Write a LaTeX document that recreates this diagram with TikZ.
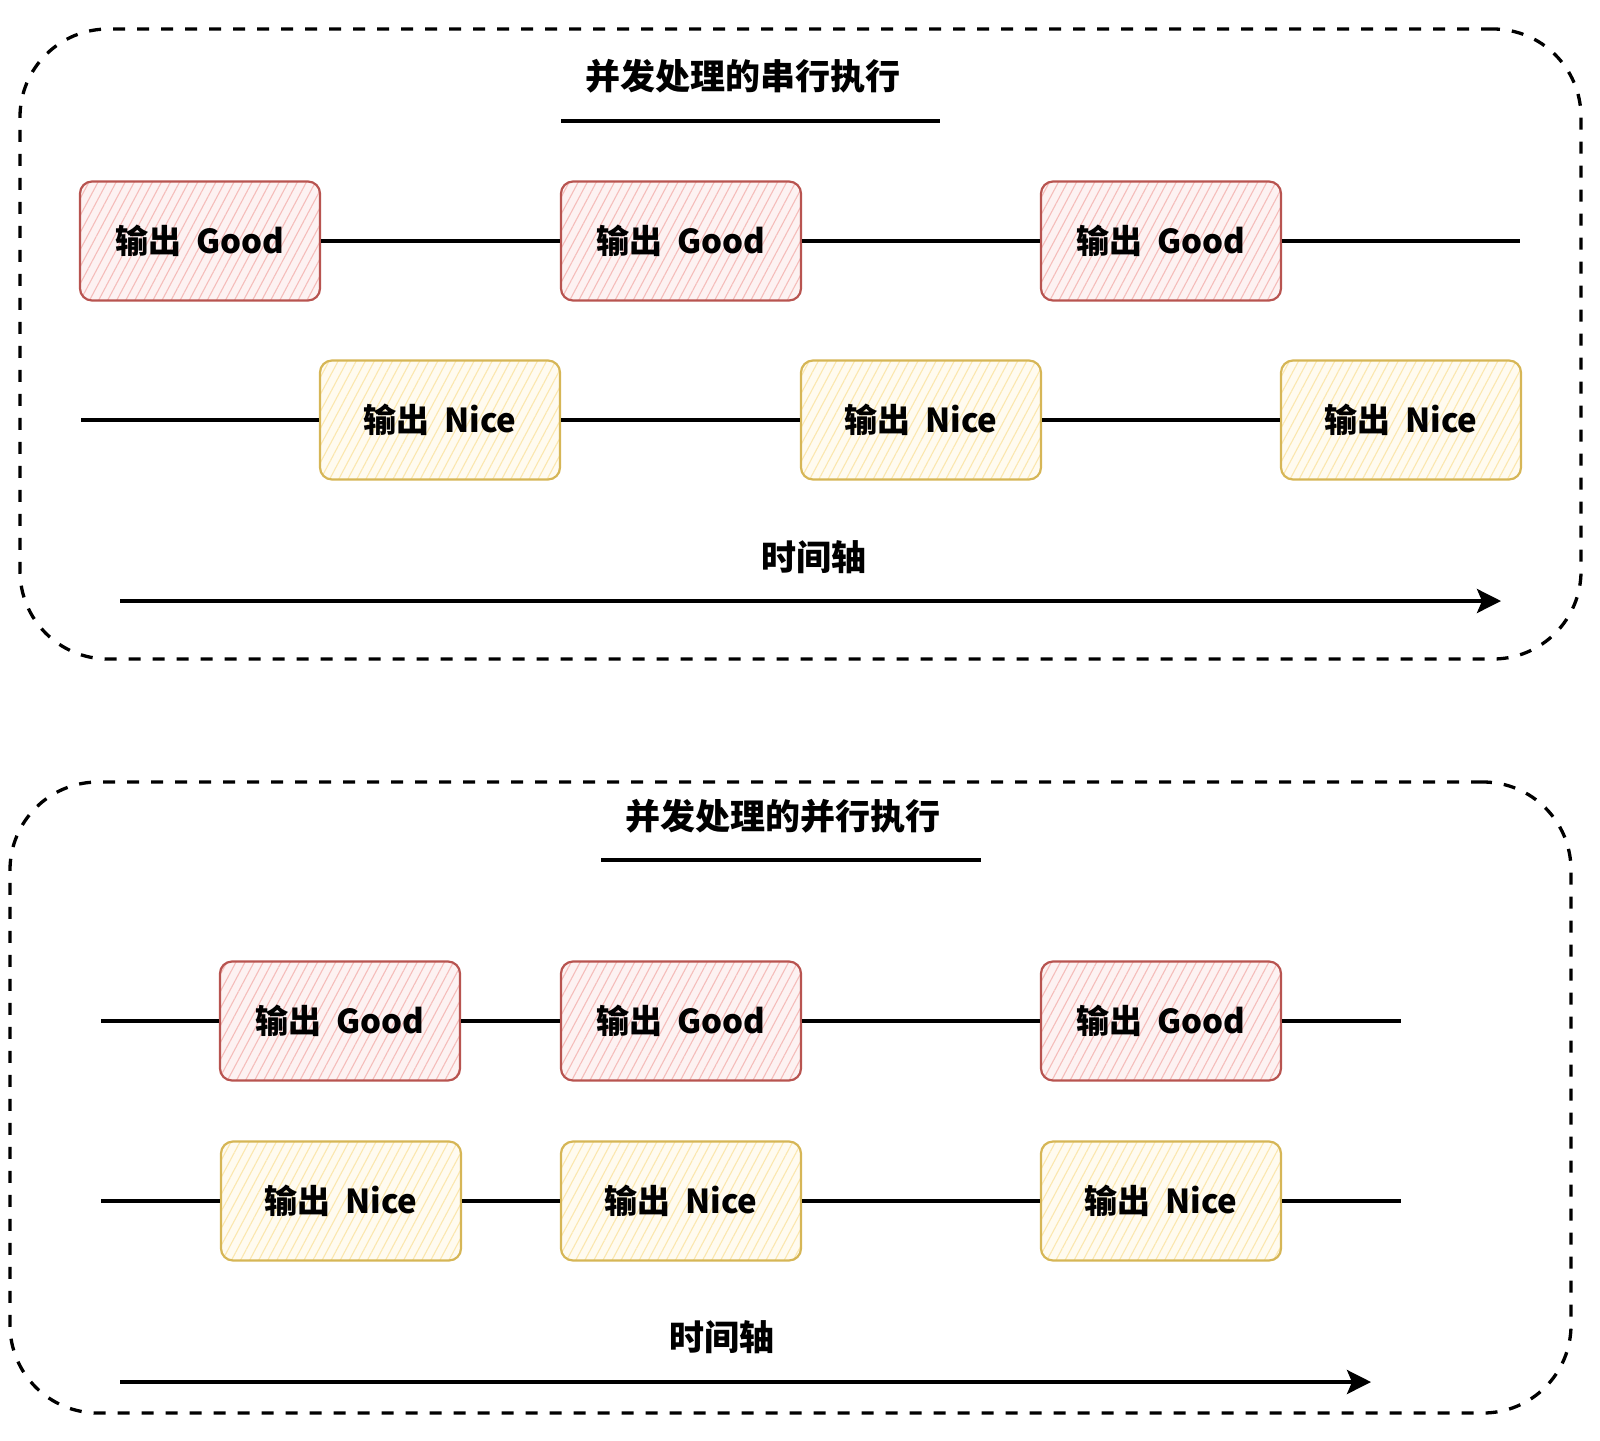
\documentclass[tikz,border=0pt]{standalone}
\usepackage{fontspec}
\setmainfont{Noto Sans CJK SC}
\usetikzlibrary{arrows.meta,patterns.meta}
\definecolor{redstroke}{HTML}{B85450}
\definecolor{redhatch}{HTML}{F5BDBA}
\definecolor{redbg}{HTML}{FDF2F2}
\definecolor{yelstroke}{HTML}{D6B656}
\definecolor{yelhatch}{HTML}{FBE7AE}
\definecolor{yelbg}{HTML}{FFFBF0}
\newcommand{\boxfont}{\fontsize{33}{40}\selectfont\bfseries}
\newcommand{\titlefont}{\fontsize{35}{42}\selectfont\bfseries}
\tikzset{
  cell/.style={line width=2.2pt, rounded corners=12pt, minimum width=240pt,
    minimum height=119pt, inner sep=0pt, font=\boxfont},
  goodbox/.style={cell, draw=redstroke, preaction={fill=redbg},
    pattern={Lines[angle=62,distance=8pt,line width=1.1pt]}, pattern color=redhatch},
  nicebox/.style={cell, draw=yelstroke, preaction={fill=yelbg},
    pattern={Lines[angle=62,distance=8pt,line width=1.1pt]}, pattern color=yelhatch},
  conn/.style={line width=3.5pt, black},
  uline/.style={line width=3.3pt, black},
  axisarrow/.style={line width=3.5pt, black, -{Stealth[length=24pt,width=24pt,inset=5pt]}},
  frame/.style={draw, line width=3.3pt, dash pattern=on 12pt off 12pt, rounded corners=88pt, inner sep=0pt},
  label/.style={font=\titlefont, inner sep=0pt},
}
\begin{document}
\begin{tikzpicture}[x=1pt,y=-1pt]
\useasboundingbox (0,0) rectangle (1600,1440);

% ---------- top section ----------
\node[frame, minimum width=1561pt, minimum height=630pt] (frameA) at (800.5,344) {};
\node[label] (titleA) at (743,76) {并发处理的串行执行};
\coordinate (ulA1) at (561,121);
\coordinate (ulA2) at (940,121);
\draw[uline] (ulA1) -- (ulA2);

\node[goodbox] (gA1) at (200,241) {输出\hspace{0.45em}Good};
\node[goodbox] (gA2) at (681,241) {输出\hspace{0.45em}Good};
\node[goodbox] (gA3) at (1161,241) {输出\hspace{0.45em}Good};
\coordinate (gAend) at (1520,241);
\draw[conn] (gA1.east) -- (gA2.west);
\draw[conn] (gA2.east) -- (gA3.west);
\draw[conn] (gA3.east) -- (gAend);

\node[nicebox] (nA1) at (440,420) {输出\hspace{0.45em}Nice};
\node[nicebox] (nA2) at (921,420) {输出\hspace{0.45em}Nice};
\node[nicebox] (nA3) at (1401,420) {输出\hspace{0.45em}Nice};
\coordinate (nAstart) at (81,420);
\draw[conn] (nAstart) -- (nA1.west);
\draw[conn] (nA1.east) -- (nA2.west);
\draw[conn] (nA2.east) -- (nA3.west);

\node[label] (timeA) at (814,557) {时间轴};
\coordinate (axA1) at (120,601);
\coordinate (axA2) at (1501,601);
\draw[axisarrow] (axA1) -- (axA2);

% ---------- bottom section ----------
\node[frame, minimum width=1561pt, minimum height=631pt] (frameB) at (790.5,1097.5) {};
\node[label] (titleB) at (783,816) {并发处理的并行执行};
\coordinate (ulB1) at (601,860);
\coordinate (ulB2) at (981,860);
\draw[uline] (ulB1) -- (ulB2);

\node[goodbox] (gB1) at (340,1021) {输出\hspace{0.45em}Good};
\node[goodbox] (gB2) at (681,1021) {输出\hspace{0.45em}Good};
\node[goodbox] (gB3) at (1161,1021) {输出\hspace{0.45em}Good};
\coordinate (gBstart) at (101,1021);
\coordinate (gBend) at (1401,1021);
\draw[conn] (gBstart) -- (gB1.west);
\draw[conn] (gB1.east) -- (gB2.west);
\draw[conn] (gB2.east) -- (gB3.west);
\draw[conn] (gB3.east) -- (gBend);

\node[nicebox] (nB1) at (341,1201) {输出\hspace{0.45em}Nice};
\node[nicebox] (nB2) at (681,1201) {输出\hspace{0.45em}Nice};
\node[nicebox] (nB3) at (1161,1201) {输出\hspace{0.45em}Nice};
\coordinate (nBstart) at (101,1201);
\coordinate (nBend) at (1401,1201);
\draw[conn] (nBstart) -- (nB1.west);
\draw[conn] (nB1.east) -- (nB2.west);
\draw[conn] (nB2.east) -- (nB3.west);
\draw[conn] (nB3.east) -- (nBend);

\node[label] (timeB) at (722,1337) {时间轴};
\coordinate (axB1) at (120,1382);
\coordinate (axB2) at (1371,1382);
\draw[axisarrow] (axB1) -- (axB2);
\end{tikzpicture}
\end{document}
